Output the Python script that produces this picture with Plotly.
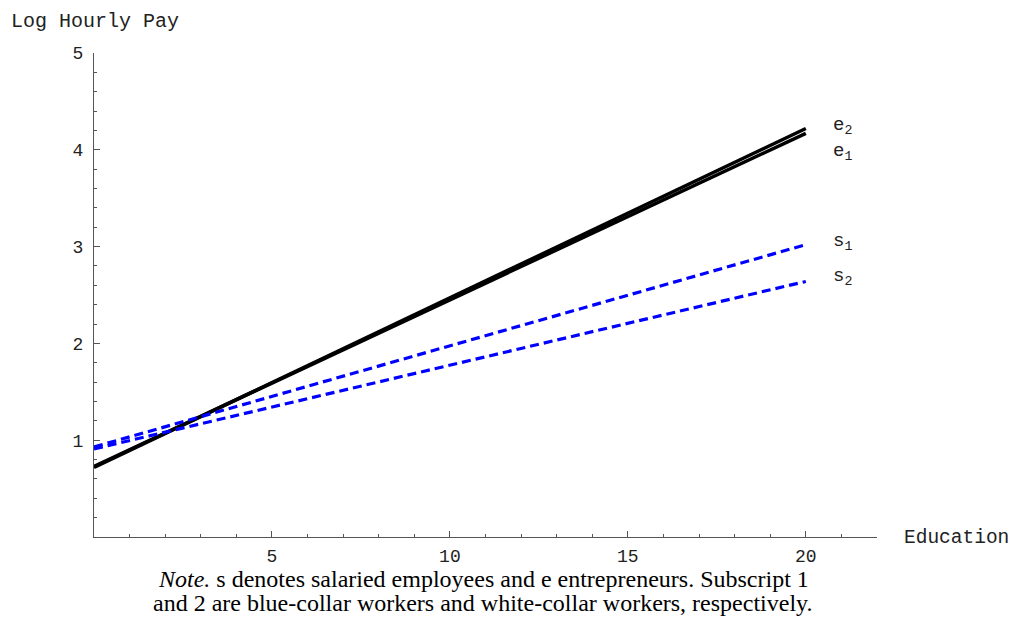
import plotly.graph_objects as go

# ---- data ----
education = [0, 20]
e1 = [0.73, 4.17]
e2 = [0.72, 4.22]
s1 = [0.93, 3.02]
s2 = [0.91, 2.64]
x_ticks = [5, 10, 15, 20]
y_ticks = [1, 2, 3, 4, 5]

W, H = 1010, 618
L, R, T, B = 94, 133, 53, 81
pw, ph = W - L - R, H - T - B


def px(xp):
    return (xp - L) / pw


def py(yp):
    return (H - B - yp) / ph


mono = "Liberation Mono"
fig = go.Figure()
fig.add_trace(go.Scatter(x=education, y=e1, mode="lines", line=dict(color="black", width=3.5)))
fig.add_trace(go.Scatter(x=education, y=e2, mode="lines", line=dict(color="black", width=3.5)))
fig.add_trace(go.Scatter(x=education, y=s1, mode="lines", line=dict(color="#0000ff", width=3.2, dash="9px,5px")))
fig.add_trace(go.Scatter(x=education, y=s2, mode="lines", line=dict(color="#0000ff", width=3.2, dash="9px,5px")))

labels = [("e<sub>2</sub>", e2[-1] + 0.03), ("e<sub>1</sub>", e1[-1] - 0.19),
          ("s<sub>1</sub>", s1[-1] + 0.03), ("s<sub>2</sub>", s2[-1] + 0.05)]
ann = []
for t, yv in labels:
    ann.append(dict(x=20.7, y=yv, xref="x", yref="y", text=t, showarrow=False,
                    xanchor="left", yanchor="middle", font=dict(family=mono, size=19, color="#222")))
ann.append(dict(x=px(9), y=py(21), xref="paper", yref="paper", text="Log Hourly Pay",
                showarrow=False, xanchor="left", yanchor="middle",
                font=dict(family=mono, size=20, color="#222")))
ann.append(dict(x=px(902), y=py(538), xref="paper", yref="paper", text="Education",
                showarrow=False, xanchor="left", yanchor="middle",
                font=dict(family=mono, size=19.5, color="#222")))
ann.append(dict(x=px(483), y=py(578.5), xref="paper", yref="paper",
                text="<i>Note.</i> s denotes salaried employees and e entrepreneurs. Subscript 1",
                showarrow=False, xanchor="center", yanchor="middle",
                font=dict(family="Liberation Serif", size=24, color="black")))
ann.append(dict(x=px(483), y=py(603), xref="paper", yref="paper",
                text="and 2 are blue-collar workers and white-collar workers, respectively.",
                showarrow=False, xanchor="center", yanchor="middle",
                font=dict(family="Liberation Serif", size=24, color="black")))

axis_common = dict(showgrid=False, zeroline=False, showline=True, linecolor="#555", linewidth=1.2,
                   ticks="inside", ticklen=6, tickcolor="#555", tickwidth=1,
                   tickfont=dict(family=mono, size=18, color="#222"))
fig.update_layout(
    width=W, height=H, margin=dict(l=L, r=R, t=T, b=B, autoexpand=False),
    paper_bgcolor="white", plot_bgcolor="white", showlegend=False,
    xaxis=dict(range=[0, 22], tickvals=x_ticks, ticktext=[str(v) for v in x_ticks],
               minor=dict(dtick=1, tick0=0, ticks="inside", ticklen=3, tickcolor="#555"),
               ticklabelstandoff=2, **axis_common),
    yaxis=dict(range=[0, 5], tickvals=y_ticks, ticktext=[str(v) for v in y_ticks],
               minor=dict(dtick=0.2, tick0=0, ticks="inside", ticklen=3, tickcolor="#555"),
               ticklabelstandoff=6, **axis_common),
    annotations=ann,
)
fig.write_html("out.html")
